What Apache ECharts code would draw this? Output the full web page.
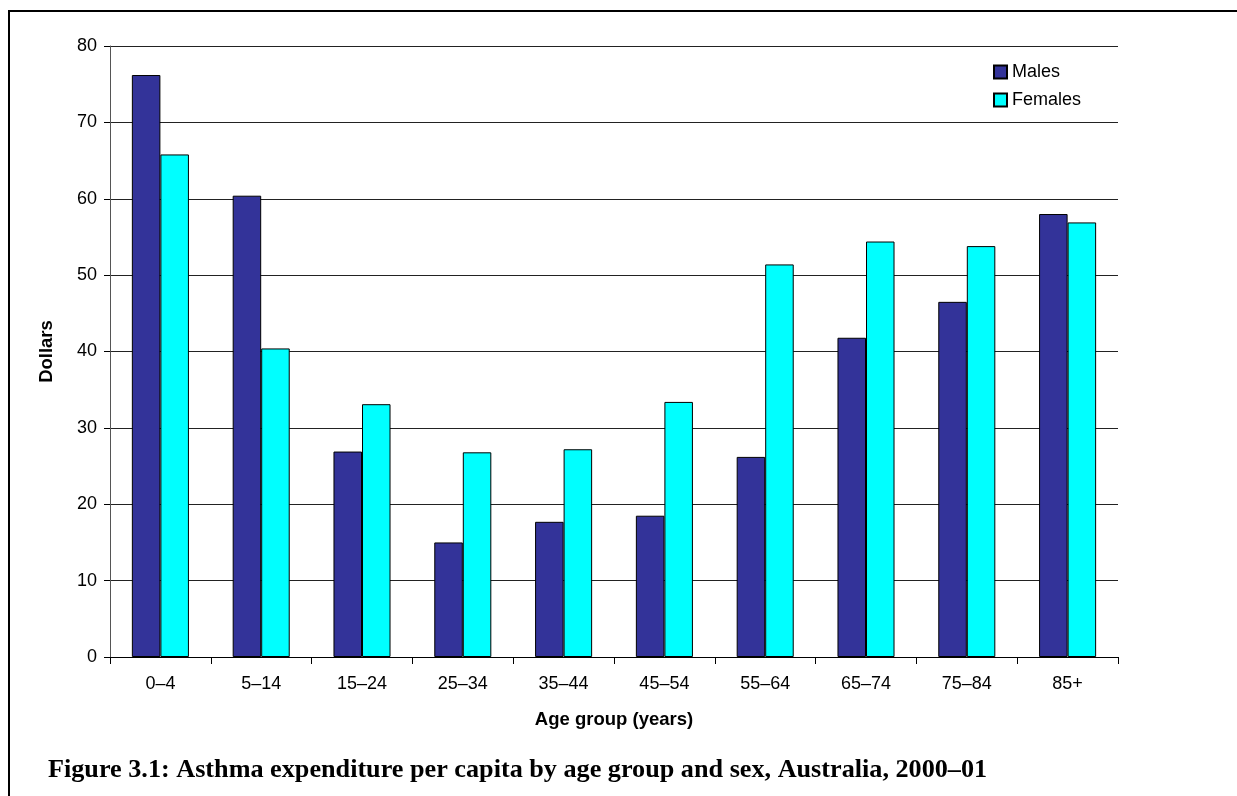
<!DOCTYPE html>
<html>
<head>
<meta charset="utf-8">
<script src="https://cdn.jsdelivr.net/npm/echarts@6/dist/echarts.min.js"></script>
<style>
html,body{margin:0;padding:0;background:#fff;}
#c{width:1237px;height:796px;}
</style>
</head>
<body>
<div id="c"></div>
<script>
const categories = ['0–4','5–14','15–24','25–34','35–44','45–54','55–64','65–74','75–84','85+'];
const males   = [76.2, 60.4, 26.9, 15.0, 17.7, 18.5, 26.2, 41.8, 46.5, 58.0];
const females = [65.8, 40.4, 33.1, 26.8, 27.2, 33.4, 51.4, 54.4, 53.8, 56.9];
const yTicks = {min: 0, max: 80, interval: 10};
const captionText = 'Figure 3.1: Asthma expenditure per capita by age group and sex, Australia, 2000–01';

const chart = echarts.init(document.getElementById('c'), null, {renderer: 'canvas'});
const sans = 'Liberation Sans, Arial, sans-serif';
chart.setOption({
  animation: false,
  backgroundColor: '#fff',
  title: {
    text: captionText,
    left: 48, top: 757, padding: 0,
    textStyle: {fontFamily: 'Liberation Serif, serif', fontWeight: 'bold', fontSize: 26.2, color: '#000'}
  },
  graphic: [
    {type: 'line', shape: {x1: 9, y1: 11, x2: 1237, y2: 11}, style: {stroke: '#000', lineWidth: 2}},
    {type: 'line', shape: {x1: 9, y1: 10, x2: 9, y2: 796}, style: {stroke: '#000', lineWidth: 2}}
  ],
  legend: {
    orient: 'vertical',
    left: 988, top: 58,
    itemWidth: 13, itemHeight: 13, itemGap: 10,
    icon: 'rect',
    textStyle: {fontFamily: sans, fontSize: 18, color: '#000'},
    data: ['Males', 'Females']
  },
  grid: {left: 110, right: 119, top: 46, bottom: 139},
  xAxis: {
    type: 'category',
    data: categories,
    name: 'Age group (years)',
    nameLocation: 'middle',
    nameGap: 53,
    nameTextStyle: {fontFamily: sans, fontWeight: 'bold', fontSize: 18.5, color: '#000', verticalAlign: 'top'},
    axisLine: {lineStyle: {color: '#000', width: 1}},
    axisTick: {show: true, length: 7, alignWithLabel: false, lineStyle: {color: '#000'}},
    axisLabel: {fontFamily: sans, fontSize: 18, color: '#000', margin: 18},
    splitLine: {show: false}
  },
  yAxis: {
    type: 'value',
    min: yTicks.min, max: yTicks.max, interval: yTicks.interval,
    name: 'Dollars',
    nameLocation: 'middle',
    nameRotate: 90,
    nameGap: 54,
    nameTextStyle: {fontFamily: sans, fontWeight: 'bold', fontSize: 18.5, color: '#000'},
    axisLine: {show: true, lineStyle: {color: '#555', width: 1}},
    axisTick: {show: true, length: 6, inside: false, lineStyle: {color: '#000'}},
    axisLabel: {fontFamily: sans, fontSize: 18, color: '#000', margin: 13},
    splitLine: {show: true, lineStyle: {color: '#222', width: 1}}
  },
  series: [
    {
      name: 'Males', type: 'bar', data: males,
      barWidth: '28.3%', barGap: '0%',
      itemStyle: {color: '#333399', borderColor: '#000', borderWidth: 1}
    },
    {
      name: 'Females', type: 'bar', data: females,
      barWidth: '28.3%', barGap: '0%',
      itemStyle: {color: '#00FFFF', borderColor: '#000', borderWidth: 1}
    }
  ]
});
</script>
</body>
</html>
